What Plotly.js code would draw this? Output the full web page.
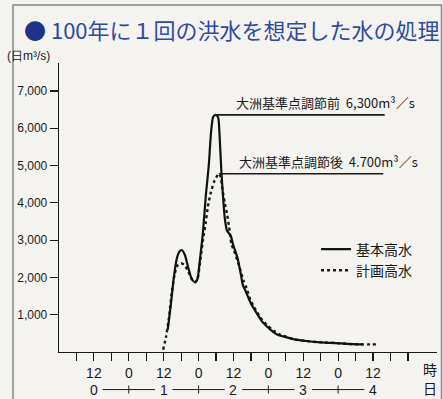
<!DOCTYPE html>
<html>
<head>
<meta charset="utf-8">
<script src="https://cdn.plot.ly/plotly-3.0.1.min.js"></script>
<style>
html,body{margin:0;padding:0;background:#f4f3f0;}
#chart{width:443px;height:399px;}
</style>
</head>
<body>
<div id="chart"></div>
<script>
// ---- data (hours from start, discharge m3/s) ----
var basicHours = [37.4, 38.5, 39.5, 40.5, 41.5, 42.3, 43.3, 44.5, 45.7, 46.8, 47.6, 48.5, 49.5, 50.5, 51.5, 52.3, 53.0, 53.8, 54.7, 55.2, 55.8, 56.3, 57.0, 57.8, 59.0, 60.0, 61.3, 62.5, 63.2, 64.1, 66.0, 68.1, 70.0, 72.7, 75.0, 78.0, 81.0, 85.0, 90.0, 96.7, 101.0, 104.5];
var basicFlow  = [600, 1300, 2000, 2500, 2700, 2730, 2600, 2250, 1950, 1870, 1950, 2500, 3200, 4200, 5000, 5900, 6300, 6360, 6300, 5850, 4900, 4300, 3600, 3250, 3130, 2850, 2550, 2100, 1800, 1650, 1300, 1030, 800, 600, 470, 400, 340, 295, 260, 232, 210, 205];

var planHours = [35.8, 36.8, 37.8, 38.8, 39.8, 40.8, 42.0, 43.2, 44.5, 45.7, 46.8, 47.6, 48.5, 49.5, 50.4, 51.2, 52.1, 53.5, 55.0, 55.6, 56.1, 57.0, 57.8, 58.5, 59.3, 60.5, 62.0, 63.5, 64.5, 65.8, 67.5, 69.2, 71.5, 73.8, 76.0, 78.4, 81.0, 85.0, 90.0, 96.7, 101.0, 104.5, 106.0, 109.0];
var planFlow  = [60, 400, 900, 1600, 2100, 2330, 2380, 2330, 2150, 1950, 1870, 1950, 2400, 3000, 3440, 3900, 4240, 4600, 4780, 4700, 4410, 4000, 3700, 3350, 2900, 2650, 2300, 1900, 1720, 1400, 1150, 930, 720, 573, 470, 400, 340, 295, 260, 232, 210, 205, 205, 205];

var seriesNames = ["基本高水", "計画高水"];

var refLevels = [6360, 4780];
var refStart  = [53.8, 55.0];
var refEnd    = [112.0, 111.5];
var refLabels = ["大洲基準点調節前  6,300m³／s", "大洲基準点調節後  4.700m³／s"];

var yTickVals = [1000, 2000, 3000, 4000, 5000, 6000, 7000];
var yTickText = ["1,000", "2,000", "3,000", "4,000", "5,000", "6,000", "7,000"];

var hourTicks  = [6, 12, 18, 24, 30, 36, 42, 48, 54, 60, 66, 72, 78, 84, 90, 96, 102, 108, 114, 120];
var hourLabels = ["", "12", "", "0", "", "12", "", "0", "", "12", "", "0", "", "12", "", "0", "", "12", "", ""];

var dayHours  = [12, 36, 60, 84, 108];
var dayLabels = ["0", "1", "2", "3", "4"];
var dayDividers = [24, 48, 72, 96];

var titleText = "100年に１回の洪水を想定した水の処理";
var yUnit = "(日m³/s)";

// ---- drawing ----
var narrow = "Liberation Sans, Arial, sans-serif";
var cjk = "Noto Sans CJK JP, Noto Sans, sans-serif";
var ink = "#1a1a1a";

var traces = [
  {x: planHours, y: planFlow, mode: "lines", name: seriesNames[1], legendrank: 2,
   line: {color: ink, width: 2.4, dash: "dot", shape: "spline", smoothing: 0.6}},
  {x: basicHours, y: basicFlow, mode: "lines", name: seriesNames[0], legendrank: 1,
   line: {color: "#111", width: 2.2, shape: "spline", smoothing: 0.6}}
];
for (var i = 0; i < refLevels.length; i++) {
  traces.push({x: [refStart[i], refEnd[i]], y: [refLevels[i], refLevels[i]], mode: "lines",
    showlegend: false, hoverinfo: "skip", line: {color: ink, width: 1.6}});
}

var annotations = [];
for (var i = 0; i < refLevels.length; i++) {
  annotations.push({x: refStart[i] + 6.3, y: refLevels[i], xref: "x", yref: "y",
    text: refLabels[i], showarrow: false, xanchor: "left", yanchor: "middle", yshift: 12,
    font: {family: cjk, size: 13, color: ink}});
}
var dayY = -0.13;
for (var i = 0; i < dayHours.length; i++) {
  annotations.push({x: dayHours[i], y: dayY, xref: "x", yref: "paper", text: dayLabels[i],
    showarrow: false, xanchor: "center", yanchor: "middle", font: {family: narrow, size: 14, color: ink}});
}
annotations.push({x: 0.981, y: -0.058, xref: "paper", yref: "paper", text: "時", showarrow: false,
  xanchor: "center", yanchor: "middle", font: {family: cjk, size: 14, color: ink}});
annotations.push({x: 0.981, y: -0.124, xref: "paper", yref: "paper", text: "日", showarrow: false,
  xanchor: "center", yanchor: "middle", font: {family: cjk, size: 14, color: ink}});
annotations.push({x: -0.143, y: 1.025, xref: "paper", yref: "paper", text: yUnit, showarrow: false,
  xanchor: "left", yanchor: "middle", font: {family: narrow, size: 12, color: ink}});

var shapes = [];
for (var i = 0; i < dayHours.length - 1; i++) {
  shapes.push({type: "line", xref: "x", yref: "paper", x0: dayHours[i] + 3, x1: dayHours[i + 1] - 3,
    y0: dayY, y1: dayY, line: {color: ink, width: 1}});
}
for (var i = 0; i < dayDividers.length; i++) {
  shapes.push({type: "line", xref: "x", yref: "paper", x0: dayDividers[i], x1: dayDividers[i],
    y0: dayY - 0.014, y1: dayY + 0.014, line: {color: ink, width: 1}});
}
// outer frame
shapes.push({type: "rect", xref: "paper", yref: "paper", x0: -0.1217, x1: 1.0119, y0: -0.2, y1: 1.2007,
  line: {color: "#888", width: 1.5}, fillcolor: "rgba(0,0,0,0)"});

var layout = {
  width: 443, height: 399,
  margin: {l: 59, r: 6, t: 63, b: 47},
  paper_bgcolor: "#f4f3f0", plot_bgcolor: "#f4f3f0",
  title: {text: '<span style="color:#1d3487">●</span> ' + titleText,
    x: 24 / 443, xref: "container", xanchor: "left",
    y: 1 - 31 / 399, yref: "container", yanchor: "middle",
    font: {family: cjk, size: 22, color: "#2f4b9e"}},
  showlegend: true,
  legend: {x: 0.68, y: 0.41, xanchor: "left", yanchor: "top", bgcolor: "rgba(0,0,0,0)",
    font: {family: cjk, size: 14, color: ink}, tracegroupgap: 0, itemwidth: 30},
  xaxis: {range: [0, 130], showgrid: false, zeroline: false, showline: true, linecolor: ink, linewidth: 1.3,
    ticks: "outside", ticklen: 8, tickwidth: 1.2, tickcolor: ink,
    tickmode: "array", tickvals: hourTicks, ticktext: hourLabels,
    tickfont: {family: narrow, size: 14, color: ink}, fixedrange: true},
  yaxis: {range: [0, 7750], showgrid: false, zeroline: false, showline: true, linecolor: ink, linewidth: 1.3,
    ticks: "outside", ticklen: 8, tickwidth: 1.2, tickcolor: ink,
    tickmode: "array", tickvals: yTickVals, ticktext: yTickText,
    tickfont: {family: narrow, size: 12, color: ink}, fixedrange: true},
  annotations: annotations,
  shapes: shapes
};

Plotly.newPlot("chart", traces, layout, {displayModeBar: false, staticPlot: true});
</script>
</body>
</html>
